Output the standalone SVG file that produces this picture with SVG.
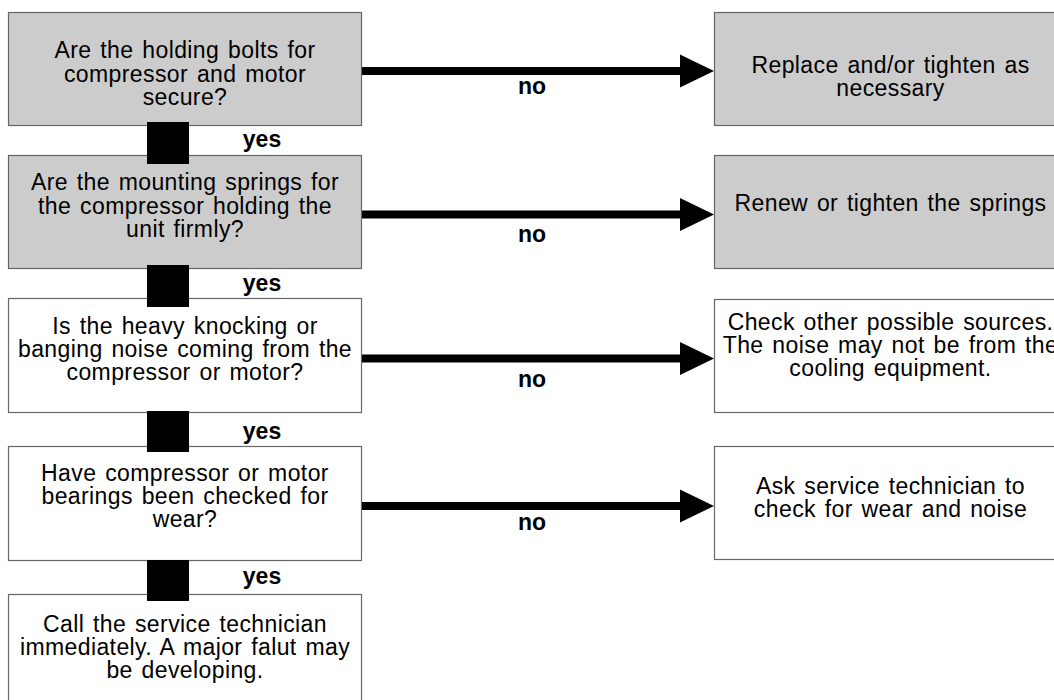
<svg xmlns="http://www.w3.org/2000/svg" width="1054" height="700" viewBox="0 0 1054 700">
<style>
.box{stroke:#666;stroke-width:1.2}
.g{fill:#cccccc}
.w{fill:#ffffff}
.t{font-family:"Liberation Sans",Arial,sans-serif;font-size:23px;fill:#000;text-anchor:middle;letter-spacing:0.4px;word-spacing:2px}
.lbl{font-family:"Liberation Sans",Arial,sans-serif;font-size:23px;font-weight:bold;fill:#000;text-anchor:middle}
.arr{stroke:#000;stroke-width:8;fill:none}
</style>
<defs>
<marker id="ah" markerUnits="userSpaceOnUse" markerWidth="34" markerHeight="34" viewBox="0 0 34 34" refX="0" refY="17" orient="auto">
<polygon points="0,0.5 34,17 0,33.5" fill="#000"/>
</marker>
</defs>
<rect width="1054" height="700" fill="#fff"/>
<g id="connectors">
<line class="arr" x1="361" y1="71" x2="680" y2="71" marker-end="url(#ah)"/>
<text class="lbl" x="532" y="94">no</text>
<line class="arr" x1="361" y1="214.5" x2="680" y2="214.5" marker-end="url(#ah)"/>
<text class="lbl" x="532" y="241.5">no</text>
<line class="arr" x1="361" y1="358.5" x2="680" y2="358.5" marker-end="url(#ah)"/>
<text class="lbl" x="532" y="387">no</text>
<line class="arr" x1="361" y1="506" x2="680" y2="506" marker-end="url(#ah)"/>
<text class="lbl" x="532" y="530">no</text>
</g>
<g id="q1">
<rect class="box g" x="8.5" y="12.5" width="353" height="113"/>
<text class="t" x="185" y="57.5">Are the holding bolts for</text>
<text class="t" x="185" y="81.5">compressor and motor</text>
<text class="t" x="185" y="105">secure?</text>
</g>
<g id="a1">
<rect class="box g" x="714.5" y="12.5" width="353" height="113"/>
<text class="t" x="890.5" y="72.5">Replace and/or tighten as</text>
<text class="t" x="890.5" y="95.5">necessary</text>
</g>
<g id="q2">
<rect class="box g" x="8.5" y="155.5" width="353" height="113"/>
<text class="t" x="185" y="190">Are the mounting springs for</text>
<text class="t" x="185" y="213.5">the compressor holding the</text>
<text class="t" x="185" y="237">unit firmly?</text>
</g>
<g id="a2">
<rect class="box g" x="714.5" y="155.5" width="353" height="113"/>
<text class="t" x="890.5" y="211">Renew or tighten the springs</text>
</g>
<g id="q3">
<rect class="box w" x="8.5" y="298.5" width="353" height="114"/>
<text class="t" x="185" y="334">Is the heavy knocking or</text>
<text class="t" x="185" y="357">banging noise coming from the</text>
<text class="t" x="185" y="380">compressor or motor?</text>
</g>
<g id="a3">
<rect class="box w" x="714.5" y="299.5" width="353" height="113"/>
<text class="t" x="890.5" y="330">Check other possible sources.</text>
<text class="t" x="890.5" y="353">The noise may not be from the</text>
<text class="t" x="890.5" y="375.5">cooling equipment.</text>
</g>
<g id="q4">
<rect class="box w" x="8.5" y="446.5" width="353" height="114"/>
<text class="t" x="185" y="481">Have compressor or motor</text>
<text class="t" x="185" y="504">bearings been checked for</text>
<text class="t" x="185" y="527">wear?</text>
</g>
<g id="a4">
<rect class="box w" x="714.5" y="446.5" width="353" height="113"/>
<text class="t" x="890.5" y="493.5">Ask service technician to</text>
<text class="t" x="890.5" y="517">check for wear and noise</text>
</g>
<g id="r5">
<rect class="box w" x="8.5" y="594.5" width="353" height="114"/>
<text class="t" x="185" y="632">Call the service technician</text>
<text class="t" x="185" y="655">immediately. A major falut may</text>
<text class="t" x="185" y="678">be developing.</text>
</g>
<g id="yes-connectors">
<rect x="147" y="122" width="42" height="42" fill="#000"/>
<text class="lbl" x="262" y="147">yes</text>
<rect x="147" y="265" width="42" height="42" fill="#000"/>
<text class="lbl" x="262" y="291">yes</text>
<rect x="147" y="411" width="42" height="41" fill="#000"/>
<text class="lbl" x="262" y="438.5">yes</text>
<rect x="147" y="560" width="42" height="41" fill="#000"/>
<text class="lbl" x="262" y="584">yes</text>
</g>
</svg>
